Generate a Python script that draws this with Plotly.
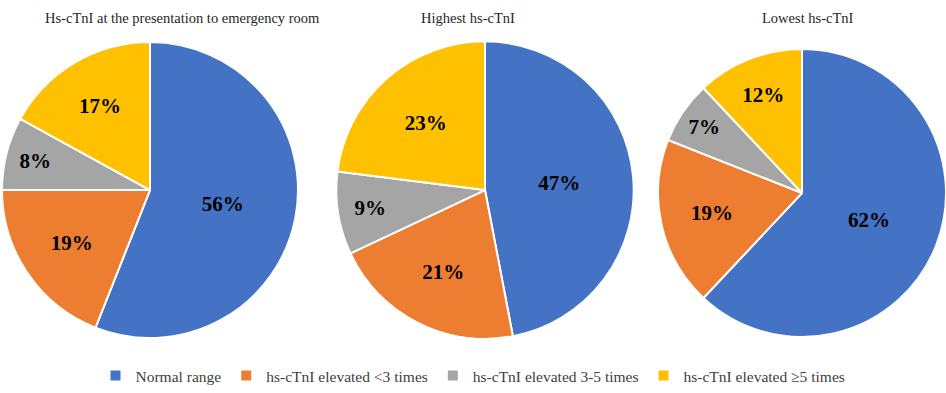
import plotly.graph_objects as go

# Categories and shares (%) for each panel
categories = ["Normal range", "hs-cTnI elevated <3 times",
              "hs-cTnI elevated 3-5 times", "hs-cTnI elevated \u22655 times"]
presentation = [56, 19, 8, 17]
highest = [47, 21, 9, 23]
lowest = [62, 19, 7, 12]
titles = ["Hs-cTnI at the presentation to emergency room",
          "Highest hs-cTnI", "Lowest hs-cTnI"]

colors = ["#4472C4", "#ED7D31", "#A5A5A5", "#FFC000"]
W, H = 946, 393
serif = "Liberation Serif, Times New Roman, serif"

# pixel domains for the three pies (left, right, top, bottom)
boxes = [(2, 298, 42, 344), (336, 634, 42, 344), (658, 946, 45, 347)]
title_x = [182, 468, 808]

fig = go.Figure()
for i, (vals, box) in enumerate(zip([presentation, highest, lowest], boxes)):
    l, r, t, b = box
    fig.add_trace(go.Pie(
        labels=categories,
        values=vals,
        sort=False,
        direction="clockwise",
        rotation=0,
        marker=dict(colors=colors, line=dict(color="white", width=2)),
        texttemplate="%{value}%",
        textposition="inside",
        insidetextorientation="horizontal",
        textfont=dict(family=serif, size=21, color="black", weight="bold"),
        hoverinfo="label+percent",
        domain=dict(x=[l / W, r / W], y=[(H - b) / H, (H - t) / H]),
        showlegend=(i == 0),
    ))

for txt, x in zip(titles, title_x):
    fig.add_annotation(text=txt, x=x / W, y=(H - 18) / H, xref="paper", yref="paper",
                       showarrow=False, xanchor="center", yanchor="middle",
                       font=dict(family=serif, size=14.5, color="#262626"))

fig.update_layout(
    width=W, height=H,
    margin=dict(l=0, r=0, t=0, b=0),
    paper_bgcolor="white",
    legend=dict(orientation="h", x=0.5, xanchor="center", y=(H - 382) / H,
                yanchor="middle", font=dict(family=serif, size=15.5, color="#404040"),
                itemwidth=30, tracegroupgap=0),
)

fig.write_html("out.html")
